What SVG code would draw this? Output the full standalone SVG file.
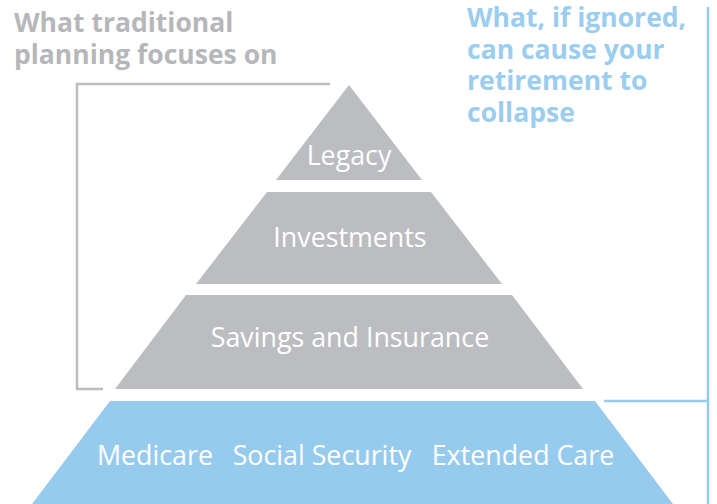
<svg xmlns="http://www.w3.org/2000/svg" width="717" height="504" viewBox="0 0 717 504">
<style>
.gray{fill:#bcbdc0}
.blue{fill:#97cbee}
.lbl{font-family:"Open Sans",sans-serif;font-size:26.8px;font-weight:normal;fill:#ffffff;text-anchor:middle}
.hd{font-family:"Open Sans",sans-serif;font-size:26.5px;font-weight:bold}
.gl{fill:none;stroke:#bcbdc0;stroke-width:2.5}
.bl{fill:none;stroke:#97cbee;stroke-width:2.5}
</style>
<rect width="717" height="504" fill="#ffffff"/>
<g id="heading-left">
<text class="hd" fill="#b6b7ba"><tspan x="14" y="32">What traditional</tspan><tspan x="14" y="64">planning focuses on</tspan></text>
</g>
<g id="heading-right">
<text class="hd" fill="#9bcdef"><tspan x="467" y="27">What, if ignored,</tspan><tspan x="467" y="59">can cause your</tspan><tspan x="467" y="90">retirement to</tspan><tspan x="467" y="122">collapse</tspan></text>
</g>
<g id="connectors">
<polyline class="gl" points="330,84 77,84 77,389 103,389"/>
<polyline class="bl" points="604,401 708,401"/>
<line class="bl" x1="708" y1="7" x2="708" y2="504"/>
</g>
<g id="legacy">
<polygon class="gray" points="349,85 422,180 276,180"/>
<text class="lbl" x="349" y="165">Legacy</text>
</g>
<g id="investments">
<polygon class="gray" points="267,192 431,192 502,284 196,284"/>
<text class="lbl" x="350" y="247">Investments</text>
</g>
<g id="savings">
<polygon class="gray" points="186,295 512,295 583,389 115,389"/>
<text class="lbl" x="350" y="347">Savings and Insurance</text>
</g>
<g id="foundation">
<polygon class="blue" points="110,401 595,401 673,504 32,504"/>
<text class="lbl" x="155" y="465">Medicare</text>
<text class="lbl" x="322" y="465">Social Security</text>
<text class="lbl" x="523" y="465">Extended Care</text>
</g>
</svg>
